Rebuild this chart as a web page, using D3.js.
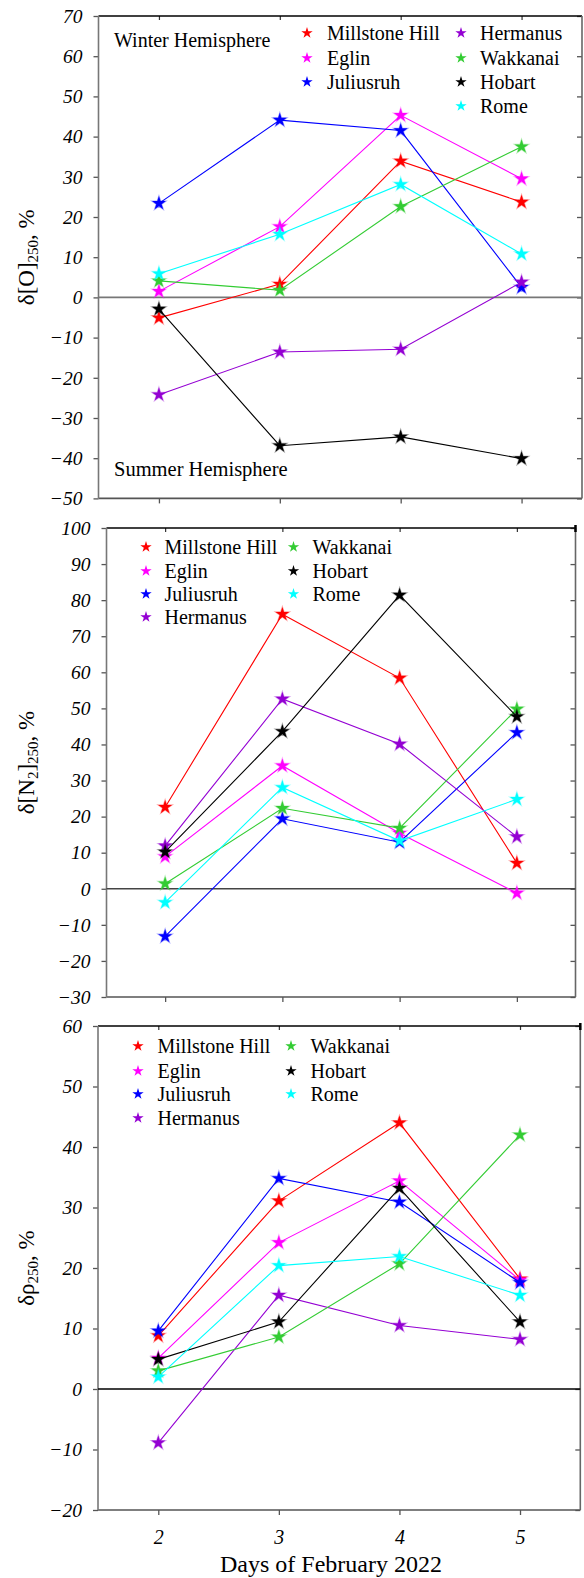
<!DOCTYPE html>
<html>
<head>
<meta charset="utf-8">
<script src="https://cdn.jsdelivr.net/npm/d3@7"></script>
<style>
  body { margin: 0; background: #fff; }
  svg { display: block; }
  text { font-family: "Liberation Serif", "DejaVu Serif", serif; fill: #000; }
</style>
</head>
<body>
<svg id="chart" width="584" height="1578"></svg>
<script>
// Days of February 2022
const days = [2, 3, 4, 5]
const stations = ["Millstone Hill", "Eglin", "Juliusruh", "Hermanus", "Wakkanai", "Hobart", "Rome"]
const stationColors = ["#ff0000", "#ff00ff", "#0000ff", "#9400d3", "#33cc33", "#000000", "#00ffff"]

// values per station, in the order of `stations`, one value per day
const deltaO = [
  [-5.1, 3.3, 33.9, 23.7],
  [1.5, 17.6, 45.3, 29.5],
  [23.4, 44.1, 41.5, 2.5],
  [-24.2, -13.6, -12.9, 3.8],
  [4.1, 1.8, 22.6, 37.5],
  [-2.9, -36.9, -34.7, -40.1],
  [5.9, 15.7, 28.1, 10.8]
]
const deltaN2 = [
  [22.6, 76.1, 58.4, 7.1],
  [8.9, 34.1, 15.4, -1.2],
  [-13.2, 19.4, 12.9, 43.3],
  [11.9, 52.6, 40.1, 14.4],
  [1.4, 22.3, 16.8, 49.8],
  [10.2, 43.6, 81.4, 47.7],
  [-3.8, 28.1, 13.3, 24.8]
]
const deltaRho = [
  [8.8, 31.1, 44.0, 18.2],
  [5.1, 24.2, 34.4, 18.0],
  [9.6, 34.8, 30.9, 17.6],
  [-8.9, 15.5, 10.5, 8.2],
  [3.0, 8.6, 20.7, 42.0],
  [4.9, 11.1, 33.2, 11.1],
  [2.0, 20.4, 21.9, 15.5]
]

const oTicks = [70, 60, 50, 40, 30, 20, 10, 0, -10, -20, -30, -40, -50]
const n2Ticks = [100, 90, 80, 70, 60, 50, 40, 30, 20, 10, 0, -10, -20, -30]
const rhoTicks = [60, 50, 40, 30, 20, 10, 0, -10, -20]

const svg = d3.select("#chart")
const star = d3.symbol().type(d3.symbolStar)
const serif = "'Liberation Serif', 'DejaVu Serif', serif"

/**
 * Draws one panel: frame, ticks, zero line, series and legend.
 */
function drawPanel (cfg) {
  const x = d3.scaleLinear().domain([1.5, 5.5]).range([cfg.left, cfg.right])
  const y = d3.scaleLinear().domain(cfg.domain).range([cfg.bottom, cfg.top])
  const g = svg.append("g")

  // left axis (outward ticks + labels)
  const left = g.append("g").attr("transform", `translate(${cfg.left},0)`)
    .call(d3.axisLeft(y).tickValues(cfg.ticks).tickSize(5).tickPadding(11).tickFormat(d3.format("d")))
  left.attr("font-family", null)
  left.select(".domain").remove()
  left.selectAll(".tick line").attr("stroke", "#555").attr("stroke-width", 1.3)
  left.selectAll(".tick text")
    .style("font-family", serif)
    .style("font-style", "italic")
    .style("font-size", "19.5px")
    .attr("fill", "#000")

  // right axis (inward ticks, no labels)
  const right = g.append("g").attr("transform", `translate(${cfg.right},0)`)
    .call(d3.axisRight(y).tickValues(cfg.ticks).tickSize(-5).tickFormat(""))
  right.select(".domain").remove()
  right.selectAll(".tick line").attr("stroke", "#555").attr("stroke-width", 1.3)

  // top axis (inward ticks)
  const top = g.append("g").attr("transform", `translate(0,${cfg.top})`)
    .call(d3.axisTop(x).tickValues(days).tickSize(-4).tickFormat(""))
  top.select(".domain").remove()
  top.selectAll(".tick line").attr("stroke", "#333").attr("stroke-width", 1.2)

  // bottom axis (outward ticks, labels on the last panel only)
  const bottom = g.append("g").attr("transform", `translate(0,${cfg.bottom})`)
    .call(d3.axisBottom(x).tickValues(days).tickSize(5).tickPadding(15)
      .tickFormat(cfg.xLabels ? d3.format("d") : ""))
  bottom.attr("font-family", null)
  bottom.select(".domain").remove()
  bottom.selectAll(".tick line").attr("stroke", "#555").attr("stroke-width", 1.3)
  bottom.selectAll(".tick text")
    .style("font-family", serif)
    .style("font-style", "italic")
    .style("font-size", "20px")
    .attr("fill", "#000")

  // frame
  g.append("line").attr("x1", cfg.left).attr("x2", cfg.right).attr("y1", cfg.top).attr("y2", cfg.top)
    .attr("stroke", "#000").attr("stroke-width", 1.3)
  g.append("line").attr("x1", cfg.left).attr("x2", cfg.right).attr("y1", cfg.bottom).attr("y2", cfg.bottom)
    .attr("stroke", "#555").attr("stroke-width", 1.6)
  g.append("line").attr("x1", cfg.left).attr("x2", cfg.left).attr("y1", cfg.top).attr("y2", cfg.bottom)
    .attr("stroke", "#777").attr("stroke-width", 1.6)
  g.append("line").attr("x1", cfg.right).attr("x2", cfg.right).attr("y1", cfg.top).attr("y2", cfg.bottom)
    .attr("stroke", "#666").attr("stroke-width", 1.6)
  if (cfg.cornerMark) {
    g.append("line").attr("x1", cfg.right).attr("x2", cfg.right).attr("y1", cfg.top - 3).attr("y2", cfg.top + 4)
      .attr("stroke", "#000").attr("stroke-width", 2.5)
  }

  // zero line
  g.append("line").attr("x1", cfg.left).attr("x2", cfg.right).attr("y1", y(0)).attr("y2", y(0))
    .attr("stroke", cfg.zeroColor).attr("stroke-width", 1.6)

  // series
  const line = d3.line().x((d, i) => x(days[i])).y(d => y(d))
  cfg.values.forEach((vals, s) => {
    const sg = g.append("g")
    sg.append("path")
      .attr("d", line(vals))
      .attr("fill", "none")
      .attr("stroke", stationColors[s])
      .attr("stroke-width", 1.1)
    sg.selectAll("path.mark")
      .data(vals)
      .enter()
      .append("path")
      .attr("class", "mark")
      .attr("d", star.size(60)())
      .attr("transform", (d, i) => `translate(${x(days[i])},${y(d)})`)
      .attr("fill", stationColors[s])
      .attr("stroke", stationColors[s])
      .attr("stroke-opacity", 0.35)
      .attr("stroke-width", 1.3)
  })

  // legend
  cfg.legendCols.forEach((col, c) => {
    col.forEach((s, r) => {
      const cy = cfg.legendRows[r]
      g.append("path")
        .attr("d", star.size(40)())
        .attr("transform", `translate(${cfg.legendX[c][0]},${cy})`)
        .attr("fill", stationColors[s])
      g.append("text")
        .attr("x", cfg.legendX[c][1])
        .attr("y", cy + 7)
        .style("font-family", serif)
        .style("font-size", "20px")
        .text(stations[s])
    })
  })

  // y title
  const t = g.append("text")
    .attr("transform", `translate(${cfg.titleX},${(cfg.top + cfg.bottom) / 2}) rotate(-90)`)
    .attr("text-anchor", "middle")
    .style("font-family", serif)
    .style("font-size", "23px")
  cfg.title(t)

  return { x, y, g }
}

function sub (t, s) {
  t.append("tspan").attr("baseline-shift", "-28%").style("font-size", "15px").text(s)
}

const p1 = drawPanel({
  left: 98.5, right: 582, top: 16, bottom: 498.4,
  domain: [-50, 70], ticks: oTicks, values: deltaO, zeroColor: "#777",
  legendCols: [[0, 1, 2], [3, 4, 5, 6]], legendRows: [33, 58, 82, 106],
  legendX: [[307, 327], [461, 480]], titleX: 34,
  title: t => { t.append("tspan").text("δ[O]"); sub(t, "250"); t.append("tspan").text(", %") }
})
p1.g.append("text").attr("x", 114).attr("y", 47).style("font-family", serif).style("font-size", "20px").text("Winter Hemisphere")
p1.g.append("text").attr("x", 114).attr("y", 476).style("font-family", serif).style("font-size", "20.5px").text("Summer Hemisphere")

drawPanel({
  left: 106.5, right: 575.5, top: 528, bottom: 997,
  domain: [-30, 100], ticks: n2Ticks, values: deltaN2, zeroColor: "#444", cornerMark: true,
  legendCols: [[0, 1, 2, 3], [4, 5, 6]], legendRows: [547, 571, 594, 617],
  legendX: [[146, 164.5], [293.5, 312.5]], titleX: 34,
  title: t => { t.append("tspan").text("δ[N"); sub(t, "2"); t.append("tspan").text("]"); sub(t, "250"); t.append("tspan").text(", %") }
})

drawPanel({
  left: 98, right: 580.3, top: 1026, bottom: 1510,
  domain: [-20, 60], ticks: rhoTicks, values: deltaRho, zeroColor: "#000", cornerMark: true, xLabels: true,
  legendCols: [[0, 1, 2, 3], [4, 5, 6]], legendRows: [1046, 1071, 1094, 1118],
  legendX: [[138, 157.5], [291, 310.5]], titleX: 34,
  title: t => { t.append("tspan").text("δρ"); sub(t, "250"); t.append("tspan").text(", %") }
})

svg.append("text")
  .attr("x", 331)
  .attr("y", 1572)
  .attr("text-anchor", "middle")
  .style("font-family", serif)
  .style("font-size", "24px")
  .text("Days of February 2022")
</script>
</body>
</html>
